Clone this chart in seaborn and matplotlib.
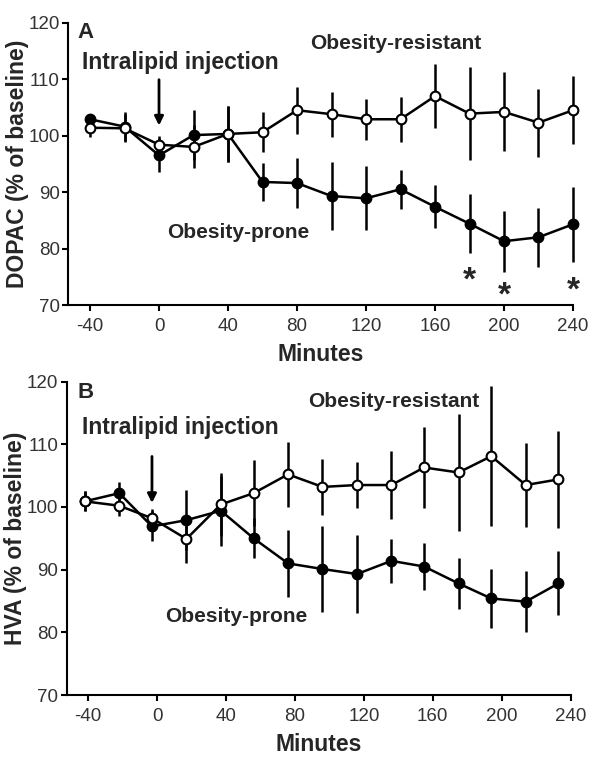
import matplotlib
matplotlib.use('Agg')
import matplotlib.pyplot as plt
import seaborn as sns

# Panel A: DOPAC
minutes_a = [-40, -20, 0, 20, 40, 60, 80, 100, 120, 140, 160, 180, 200, 220, 240]
prone_a = [102.9, 101.6, 96.5, 100.1, 100.3, 91.8, 91.6, 89.3, 88.9, 90.5, 87.4, 84.4, 81.3, 82.0, 84.3]
prone_a_err = [0.8, 2.5, 3.0, 4.5, 5.0, 3.3, 4.5, 6.0, 5.7, 3.5, 3.8, 5.2, 5.4, 5.2, 6.6]
resist_a = [101.4, 101.3, 98.4, 98.0, 100.3, 100.6, 104.5, 103.8, 102.9, 102.9, 107.0, 103.9, 104.2, 102.3, 104.5]
resist_a_err = [1.7, 2.5, 1.5, 3.8, 5.0, 3.5, 4.2, 4.0, 3.6, 4.0, 5.7, 8.2, 7.0, 6.0, 6.0]
star_x_a = [180, 200, 240]
star_y_a = [74.2, 71.6, 72.5]

# Panel B: HVA
minutes_b = [-42, -22, -3, 17, 37, 56, 76, 96, 116, 136, 155, 175, 194, 214, 233]
prone_b = [100.9, 102.2, 96.9, 97.9, 99.4, 95.0, 91.0, 90.1, 89.3, 91.4, 90.5, 87.8, 85.4, 84.9, 87.8]
prone_b_err = [1.6, 1.8, 2.4, 4.8, 5.6, 3.2, 5.4, 6.8, 6.2, 3.5, 3.7, 4.0, 4.7, 4.9, 5.1]
resist_b = [100.9, 100.2, 98.2, 94.9, 100.4, 102.2, 105.2, 103.2, 103.5, 103.5, 106.3, 105.5, 108.1, 103.5, 104.4]
resist_b_err = [1.6, 1.6, 1.5, 3.8, 5.0, 5.3, 5.2, 4.5, 3.7, 5.4, 6.4, 9.4, 11.2, 6.7, 7.8]

x_ticks = [-40, 0, 40, 80, 120, 160, 200, 240]
y_ticks = [70, 80, 90, 100, 110, 120]

sns.set_style("white")
plt.rcParams['font.family'] = ['Liberation Sans', 'DejaVu Sans']
plt.rcParams['axes.unicode_minus'] = False

fig = plt.figure(figsize=(5.92, 7.62), dpi=100)
ax_a = fig.add_axes([0.1149, 0.5997, 0.853, 0.3705])
ax_b = fig.add_axes([0.1127, 0.0879, 0.851, 0.4113])


def draw_panel(ax, x, prone, prone_err, resist, resist_err):
    for y, err, face in [(prone, prone_err, 'black'), (resist, resist_err, 'white')]:
        ax.errorbar(x, y, yerr=err, fmt='none', ecolor='black', elinewidth=1.8,
                    capsize=0, zorder=2, clip_on=False)
        sns.lineplot(x=x, y=y, ax=ax, color='black', linewidth=1.8, marker='o',
                     markersize=7, markerfacecolor=face, markeredgecolor='black',
                     markeredgewidth=1.5, zorder=3, clip_on=False)


draw_panel(ax_a, minutes_a, prone_a, prone_a_err, resist_a, resist_a_err)
draw_panel(ax_b, minutes_b, prone_b, prone_b_err, resist_b, resist_b_err)

for ax, xl, lab in [(ax_a, -52.75, 'DOPAC (% of baseline)'), (ax_b, -52.5, 'HVA (% of baseline)')]:
    ax.set_xlim(xl, 240)
    ax.set_ylim(70, 120)
    ax.set_xticks(x_ticks)
    ax.set_yticks(y_ticks)
    sns.despine(ax=ax)
    for s in ['left', 'bottom']:
        ax.spines[s].set_linewidth(1.5)
        ax.spines[s].set_color('black')
    ax.tick_params(axis='both', direction='out', length=4, width=1.5, color='black',
                   labelsize=13.5, labelcolor='#333333', left=True, bottom=True)
    ax.tick_params(axis='x', pad=5)
    ax.tick_params(axis='y', pad=2)
    ax.set_xlabel('Minutes', fontsize=16.5, fontweight='bold', labelpad=6)
    ax.set_ylabel(lab, fontsize=16.5, fontweight='bold')
    ax.yaxis.set_label_coords(-0.078, 0.5)

# annotations panel A
ax_a.text(-47.5, 118.2, 'A', fontsize=16, fontweight='bold', va='center', ha='left')
ax_a.text(-44.6, 113.0, 'Intralipid injection', fontsize=16.5, fontweight='bold', va='center', ha='left')
ax_a.text(87.5, 116.4, 'Obesity-resistant', fontsize=15, fontweight='bold', va='center', ha='left')
ax_a.text(46, 82.9, 'Obesity-prone', fontsize=15, fontweight='bold', va='center', ha='center')
ax_a.annotate('', xy=(0, 101.3), xytext=(0, 110.4),
              arrowprops=dict(arrowstyle='-|>', color='black', lw=2, mutation_scale=13))
for sx, sy in zip(star_x_a, star_y_a):
    ax_a.text(sx, sy, '*', fontsize=24, fontweight='bold', va='center', ha='center')

# annotations panel B
ax_b.text(-46, 118.3, 'B', fontsize=16, fontweight='bold', va='center', ha='left')
ax_b.text(-43.7, 112.6, 'Intralipid injection', fontsize=16.5, fontweight='bold', va='center', ha='left')
ax_b.text(87.5, 116.8, 'Obesity-resistant', fontsize=15, fontweight='bold', va='center', ha='left')
ax_b.text(46, 82.5, 'Obesity-prone', fontsize=15, fontweight='bold', va='center', ha='center')
ax_b.annotate('', xy=(-3, 100.2), xytext=(-3, 108.5),
              arrowprops=dict(arrowstyle='-|>', color='black', lw=2, mutation_scale=13))

fig.savefig('out.png', dpi=100)
